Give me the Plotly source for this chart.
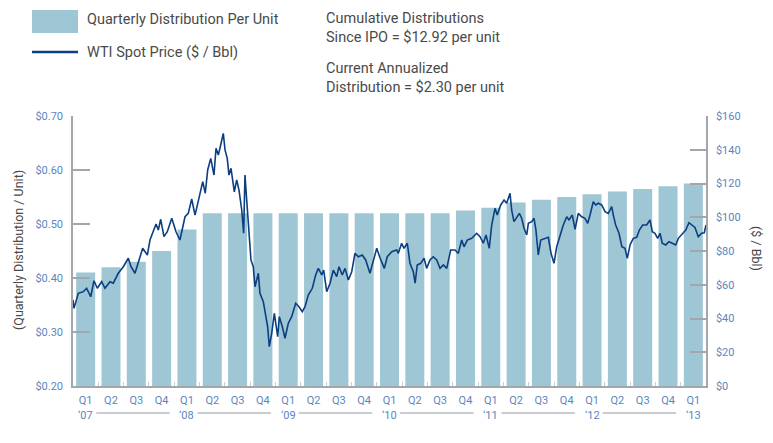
import plotly.graph_objects as go

# ---------------- data ----------------
quarters = ["Q1", "Q2", "Q3", "Q4"] * 6 + ["Q1"]
year_labels = ["\u201807", "\u201808", "\u201809", "\u201810", "\u201811", "\u201812", "\u201813"]
distribution = [0.41, 0.42, 0.43, 0.45, 0.49, 0.52, 0.52, 0.52, 0.52, 0.52,
                 0.52, 0.52, 0.52, 0.52, 0.52, 0.525, 0.53, 0.54, 0.545, 0.55,
                 0.555, 0.56, 0.565, 0.57, 0.575]

wti_year = [2007.000, 2007.010, 2007.052, 2007.102, 2007.135, 2007.175, 2007.207, 2007.240, 2007.283, 2007.316,
            2007.365, 2007.398, 2007.447, 2007.497, 2007.546, 2007.573, 2007.612, 2007.662, 2007.688, 2007.734,
            2007.760, 2007.820, 2007.842, 2007.866, 2007.898, 2007.931, 2007.975, 2008.017, 2008.056, 2008.106,
            2008.138, 2008.172, 2008.205, 2008.247, 2008.281, 2008.306, 2008.330, 2008.360, 2008.392, 2008.412,
            2008.435, 2008.458, 2008.484, 2008.501, 2008.523, 2008.540, 2008.560, 2008.593, 2008.616, 2008.639,
            2008.666, 2008.685, 2008.698, 2008.715, 2008.731, 2008.757, 2008.780, 2008.797, 2008.830, 2008.846,
            2008.879, 2008.903, 2008.922, 2008.938, 2008.962, 2008.988, 2009.021, 2009.037, 2009.067, 2009.093,
            2009.126, 2009.159, 2009.199, 2009.231, 2009.264, 2009.291, 2009.323, 2009.363, 2009.396, 2009.422,
            2009.456, 2009.475, 2009.505, 2009.538, 2009.570, 2009.604, 2009.626, 2009.659, 2009.686, 2009.719,
            2009.752, 2009.784, 2009.817, 2009.856, 2009.890, 2009.932, 2009.965, 2009.999, 2010.031, 2010.074,
            2010.103, 2010.147, 2010.196, 2010.212, 2010.245, 2010.268, 2010.301, 2010.327, 2010.360, 2010.378,
            2010.399, 2010.433, 2010.466, 2010.492, 2010.525, 2010.557, 2010.591, 2010.624, 2010.656, 2010.690,
            2010.729, 2010.772, 2010.804, 2010.838, 2010.861, 2010.893, 2010.937, 2010.986, 2011.019, 2011.051,
            2011.078, 2011.110, 2011.134, 2011.167, 2011.189, 2011.223, 2011.256, 2011.282, 2011.315, 2011.331,
            2011.354, 2011.381, 2011.407, 2011.430, 2011.453, 2011.480, 2011.496, 2011.529, 2011.552, 2011.571,
            2011.594, 2011.618, 2011.660, 2011.693, 2011.720, 2011.749, 2011.776, 2011.808, 2011.841, 2011.875,
            2011.897, 2011.930, 2011.957, 2011.989, 2012.023, 2012.055, 2012.082, 2012.105, 2012.137, 2012.161,
            2012.187, 2012.220, 2012.253, 2012.285, 2012.319, 2012.335, 2012.358, 2012.391, 2012.419, 2012.450,
            2012.473, 2012.500, 2012.532, 2012.566, 2012.592, 2012.625, 2012.664, 2012.697, 2012.720, 2012.746,
            2012.773, 2012.796, 2012.818, 2012.852, 2012.885, 2012.917, 2012.951, 2012.977, 2013.016, 2013.050,
            2013.082, 2013.109, 2013.141, 2013.174, 2013.207, 2013.233, 2013.250]
wti_price = [51.0, 46.0, 54.9, 55.9, 57.9, 52.9, 62.4, 57.9, 61.8, 57.9,
             61.8, 60.9, 66.8, 70.7, 75.7, 70.7, 66.8, 76.6, 81.6, 77.6,
             86.5, 96.0, 92.4, 98.8, 88.5, 91.4, 99.4, 91.4, 86.5, 100.3,
             102.3, 110.8, 101.3, 112.2, 121.1, 114.2, 128.0, 134.9, 125.0, 140.9,
             136.9, 142.8, 149.7, 139.9, 134.9, 125.0, 129.0, 115.1, 122.1, 116.1,
             104.3, 90.5, 125.0, 110.2, 94.4, 74.7, 70.7, 58.8, 66.8, 54.9,
             50.0, 41.1, 35.1, 23.3, 31.2, 43.1, 29.2, 41.1, 35.1, 28.3,
             37.2, 41.1, 49.0, 47.0, 44.0, 47.0, 53.9, 57.9, 65.8, 69.7,
             65.8, 68.7, 55.9, 60.9, 68.7, 64.8, 70.7, 65.8, 69.7, 62.8,
             67.7, 78.6, 76.6, 77.6, 74.7, 66.8, 74.7, 81.6, 76.0, 69.7,
             76.6, 79.6, 80.6, 78.6, 84.6, 81.6, 84.6, 72.7, 67.7, 60.9,
             71.7, 72.7, 75.7, 69.7, 74.7, 76.6, 74.7, 69.7, 71.7, 69.7,
             80.6, 80.6, 78.6, 86.5, 82.5, 86.5, 87.5, 90.5, 88.5, 84.6,
             89.5, 81.6, 95.4, 105.3, 101.3, 107.3, 110.2, 108.3, 114.2, 104.3,
             97.4, 100.3, 102.3, 99.4, 93.5, 89.5, 96.4, 97.4, 99.4, 92.4,
             77.6, 86.5, 87.5, 88.1, 78.6, 72.7, 82.5, 89.5, 95.4, 100.3,
             98.4, 101.3, 92.9, 102.3, 100.3, 99.4, 96.4, 101.3, 109.2, 107.3,
             108.3, 107.3, 103.3, 102.3, 106.3, 101.3, 95.4, 90.5, 82.5, 81.6,
             75.7, 83.6, 87.5, 88.1, 92.4, 95.4, 95.4, 98.4, 91.4, 90.5,
             87.5, 90.5, 84.6, 83.6, 85.5, 84.6, 83.6, 87.5, 90.5, 92.4,
             96.8, 95.4, 94.0, 88.5, 90.5, 90.8, 95.4]

legend_bar = "Quarterly Distribution Per Unit"
legend_line = "WTI Spot Price ($ / Bbl)"
note_blocks = [["Cumulative Distributions", "Since IPO = $12.92 per unit"],
               ["Current Annualized", "Distribution = $2.30 per unit"]]
left_title = "(Quarterly Distribution / Unit)"
right_title = "($ / Bbl)"

# ---------------- styling / geometry ----------------
# page is 773x443; the browser body adds an 8px margin around the figure
O = 8
W, H = 773 - 2 * O, 443 - 2 * O
L, R, T, B = 73 - O, 706 - O, 116 - O, 386 - O   # plot area in figure pixels
BAR_COLOR = "#9fc6d4"
LINE_COLOR = "#0c3f80"
TICK_COLOR = "#5b86bd"
TEXT_COLOR = "#4a4a4a"
AXIS_GREY = "#a3a7ab"
FONT = "Roboto, Arial, sans-serif"


def px(xpage):
    return (xpage - O - L) / (R - L)


def py(ypage):
    return (B - (ypage - O)) / (B - T)


bar_x = list(range(len(distribution)))
line_x = [(y - 2007) * 4 - 0.5 for y in wti_year]

fig = go.Figure()
fig.add_trace(go.Bar(x=bar_x, y=distribution, marker_color=BAR_COLOR,
                     marker_line_width=0, name=legend_bar, yaxis="y"))
fig.add_trace(go.Scatter(x=line_x, y=wti_price, mode="lines", name=legend_line,
                         line=dict(color=LINE_COLOR, width=1.6), yaxis="y2"))

fig.update_layout(
    width=W, height=H,
    margin=dict(l=L, r=W - R, t=T, b=H - B, pad=0, autoexpand=False),
    paper_bgcolor="white", plot_bgcolor="white",
    showlegend=False, bargap=0.25,
    font=dict(family=FONT, color=TEXT_COLOR),
    xaxis=dict(range=[-0.5, len(distribution) - 0.5], showgrid=False, zeroline=False,
               automargin=False,
               showline=True, linecolor=AXIS_GREY, linewidth=2,
               tickmode="array", tickvals=bar_x, ticktext=quarters, ticks="",
               ticklabelstandoff=3,
               tickfont=dict(size=11, color=TICK_COLOR, family=FONT),
               minor=dict(tickmode="array", tickvals=[i + 0.5 for i in bar_x[:-1]],
                          ticks="inside", ticklen=4, tickcolor="#c9cdd1", tickwidth=1)),
    yaxis=dict(range=[0.2, 0.7], dtick=0.1, tickprefix="$", tickformat=".2f",
               automargin=False,
               showgrid=False, zeroline=False, showline=True, linecolor=AXIS_GREY, linewidth=1.5,
               ticks="inside", ticklen=17, tickcolor=AXIS_GREY, tickwidth=1.5,
               tickfont=dict(size=11, color=TICK_COLOR, family=FONT), ticklabelstandoff=6),
    yaxis2=dict(range=[0, 160], dtick=20, tickprefix="$", overlaying="y", side="right",
                automargin=False,
                showgrid=False, zeroline=False, showline=True, linecolor=AXIS_GREY, linewidth=1.5,
                ticks="inside", ticklen=16, tickcolor=AXIS_GREY, tickwidth=1.5,
                tickfont=dict(size=11, color=TICK_COLOR, family=FONT), ticklabelstandoff=6),
)

annotations = []
shapes = []


def label(x, y, text, size, color=TEXT_COLOR, xanchor="center", xref="paper", angle=0, align="left"):
    annotations.append(dict(x=x, y=y, xref=xref, yref="paper", text=text, textangle=angle,
                            xanchor=xanchor, yanchor="middle", showarrow=False, align=align,
                            borderpad=0,
                            font=dict(size=size, color=color, family=FONT)))


# year labels under each Q1 and connecting rules
year_pos = [i for i, q in enumerate(quarters) if q == "Q1"]
for k, (xi, lab) in enumerate(zip(year_pos, year_labels)):
    label(xi, py(415), lab, 11, TICK_COLOR, xref="x", align="center")
    if k < len(year_pos) - 1:
        shapes.append(dict(type="line", xref="x", yref="paper", x0=xi + 0.42, x1=year_pos[k + 1] - 0.68,
                           y0=py(413), y1=py(413), line=dict(color="#b8bcc0", width=1.5)))

# axis titles
label(px(18), py(250), left_title, 12.5, angle=-90, align="center")
label(px(757), py(248), right_title, 12.5, angle=90, align="center")

# custom legend
shapes.append(dict(type="rect", xref="paper", yref="paper", x0=px(32), x1=px(78), y0=py(33), y1=py(10),
                   fillcolor=BAR_COLOR, line=dict(width=0)))
shapes.append(dict(type="line", xref="paper", yref="paper", x0=px(32), x1=px(78), y0=py(52), y1=py(52),
                   line=dict(color=LINE_COLOR, width=2.5)))
label(px(86), py(20), legend_bar, 14.5, xanchor="left")
label(px(86), py(53), legend_line, 14.5, xanchor="left")
for block, yc in zip(note_blocks, [28, 78]):
    label(px(325), py(yc), "<br>".join(block), 14.5, xanchor="left")

fig.update_layout(annotations=annotations, shapes=shapes)
fig.write_html("out.html")
